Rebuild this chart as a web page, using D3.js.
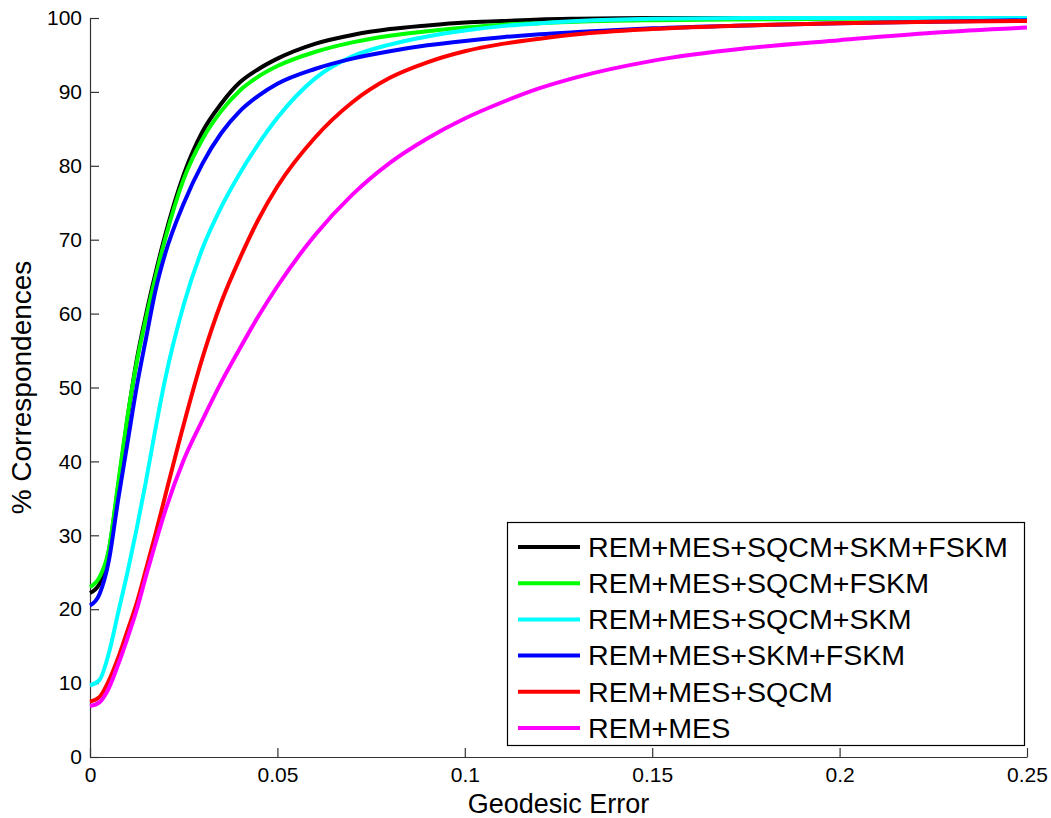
<!DOCTYPE html>
<html>
<head>
<meta charset="utf-8">
<script src="https://cdn.jsdelivr.net/npm/d3@7"></script>
<style>
  body { margin: 0; background: #fff; }
  svg { display: block; font-family: Arial, "Liberation Sans", sans-serif; }
  .tick text { font-size: 21px; fill: #000; }
</style>
</head>
<body>
<svg id="chart" width="1051" height="818"></svg>
<script>
// geodesic error thresholds
const errors = [0, 0.0025, 0.005, 0.0075, 0.01, 0.0125, 0.015, 0.0175, 0.02, 0.025, 0.03, 0.035, 0.04, 0.045,
  0.05, 0.06, 0.07, 0.08, 0.09, 0.1, 0.11, 0.12, 0.13, 0.15, 0.175, 0.2, 0.225, 0.25];

const remMesSqcmSkmFskm = [22.2, 23.4, 27.8, 36.5, 45.8, 53.8, 60, 65.5, 70.5, 78.8, 84.6, 88.4, 91.3, 93.1,
  94.5, 96.5, 97.7, 98.5, 99.0, 99.4, 99.6, 99.8, 99.9, 100, 100, 100, 100, 100];
const remMesSqcmFskm = [23, 24.3, 28, 37, 46, 53.5, 59.5, 65, 70, 78.2, 83.6, 87.4, 90.2, 92.1,
  93.5, 95.4, 96.7, 97.6, 98.2, 98.7, 99.1, 99.3, 99.5, 99.7, 99.8, 99.9, 99.9, 100];
const remMesSqcmSkm = [9.7, 10.4, 14, 19.5, 25, 31, 37.5, 44.5, 51, 61.2, 68.8, 74.4, 79, 83,
  86.5, 91.8, 94.8, 96.4, 97.5, 98.3, 98.9, 99.3, 99.6, 99.9, 100, 100, 100, 100];
const remMesSkmFskm = [20.5, 22, 26.5, 34.8, 42.5, 50.2, 56.8, 63.2, 68, 74.9, 80.3, 84.4, 87.4, 89.5,
  91.1, 93.1, 94.5, 95.5, 96.3, 96.9, 97.4, 97.8, 98.1, 98.6, 99.0, 99.3, 99.5, 99.7];
const remMesSqcm = [7.5, 8.1, 10.3, 13.4, 17.1, 20.9, 25.5, 30.2, 35.2, 45, 54, 61.5, 67.5, 72.8,
  77.2, 83.8, 88.6, 91.9, 94.0, 95.5, 96.5, 97.2, 97.8, 98.5, 99, 99.3, 99.5, 99.6];
const remMes = [6.9, 7.4, 9.3, 12.5, 16.1, 20, 24.6, 29, 33.2, 40.2, 45.6, 50.7, 55.3, 59.7,
  63.7, 70.6, 76.1, 80.4, 83.7, 86.4, 88.6, 90.5, 92, 94.2, 95.9, 97, 98, 98.7];

const seriesNames = ['REM+MES+SQCM+SKM+FSKM', 'REM+MES+SQCM+FSKM', 'REM+MES+SQCM+SKM',
  'REM+MES+SKM+FSKM', 'REM+MES+SQCM', 'REM+MES'];
const seriesColors = ['#000000', '#00ff00', '#00ffff', '#0000ff', '#ff0000', '#ff00ff'];
const seriesValues = [remMesSqcmSkmFskm, remMesSqcmFskm, remMesSqcmSkm, remMesSkmFskm, remMesSqcm, remMes];

const xTicks = [0, 0.05, 0.1, 0.15, 0.2, 0.25];
const yTicks = [0, 10, 20, 30, 40, 50, 60, 70, 80, 90, 100];

const margin = {left: 90, right: 24, top: 18, bottom: 61};
const width = 1051, height = 818;

const svg = d3.select('#chart');
svg.append('rect').attr('width', width).attr('height', height).attr('fill', '#fff');

const xScale = d3.scaleLinear().domain([0, 0.25]).range([margin.left, width - margin.right]);
const yScale = d3.scaleLinear().domain([0, 100]).range([height - margin.bottom, margin.top]);

// axes, ticks pointing inward like matlab
const xAxis = d3.axisBottom(xScale)
  .tickValues(xTicks)
  .tickSizeInner(-9)
  .tickSizeOuter(0)
  .tickPadding(10)
  .tickFormat(d => d3.format('')(d));

const yAxis = d3.axisLeft(yScale)
  .tickValues(yTicks)
  .tickSizeInner(-9)
  .tickSizeOuter(0)
  .tickPadding(8);

svg.append('g')
  .attr('class', 'x-axis')
  .attr('transform', `translate(0, ${height - margin.bottom})`)
  .call(xAxis);

svg.append('g')
  .attr('class', 'y-axis')
  .attr('transform', `translate(${margin.left}, 0)`)
  .call(yAxis);

svg.selectAll('.domain, .tick line').attr('stroke', '#333').attr('stroke-width', 1.2);

// lines
const lineGen = d3.line()
  .x((d, i) => xScale(errors[i]))
  .y(d => yScale(d))
  .curve(d3.curveMonotoneX);

svg.append('g')
  .attr('class', 'lines')
  .selectAll('path')
  .data(seriesValues)
  .join('path')
    .attr('fill', 'none')
    .attr('stroke', (d, i) => seriesColors[i])
    .attr('stroke-width', 4)
    .attr('stroke-linejoin', 'round')
    .attr('d', lineGen);

// axis labels
svg.append('text')
  .attr('x', (margin.left + width - margin.right) / 2)
  .attr('y', 813)
  .attr('text-anchor', 'middle')
  .attr('font-size', 27)
  .text('Geodesic Error');

svg.append('text')
  .attr('transform', `translate(31, ${(margin.top + height - margin.bottom) / 2}) rotate(-90)`)
  .attr('text-anchor', 'middle')
  .attr('font-size', 28)
  .text('% Correspondences');

// legend
const legend = svg.append('g').attr('class', 'legend');
legend.append('rect')
  .attr('x', 507.5).attr('y', 522.5)
  .attr('width', 517).attr('height', 223)
  .attr('fill', '#fff')
  .attr('stroke', '#000')
  .attr('stroke-width', 1.2);

const rows = legend.selectAll('.row')
  .data(seriesNames)
  .join('g')
    .attr('class', 'row')
    .attr('transform', (d, i) => `translate(518, ${547 + i * 36.2})`);

rows.append('line')
  .attr('x1', 0).attr('x2', 62)
  .attr('stroke', (d, i) => seriesColors[i])
  .attr('stroke-width', 4);

rows.append('text')
  .attr('transform', 'translate(70, 0) scale(1.06, 1)')
  .attr('dy', '0.36em')
  .attr('font-size', 27)
  .text(d => d);
</script>
</body>
</html>
